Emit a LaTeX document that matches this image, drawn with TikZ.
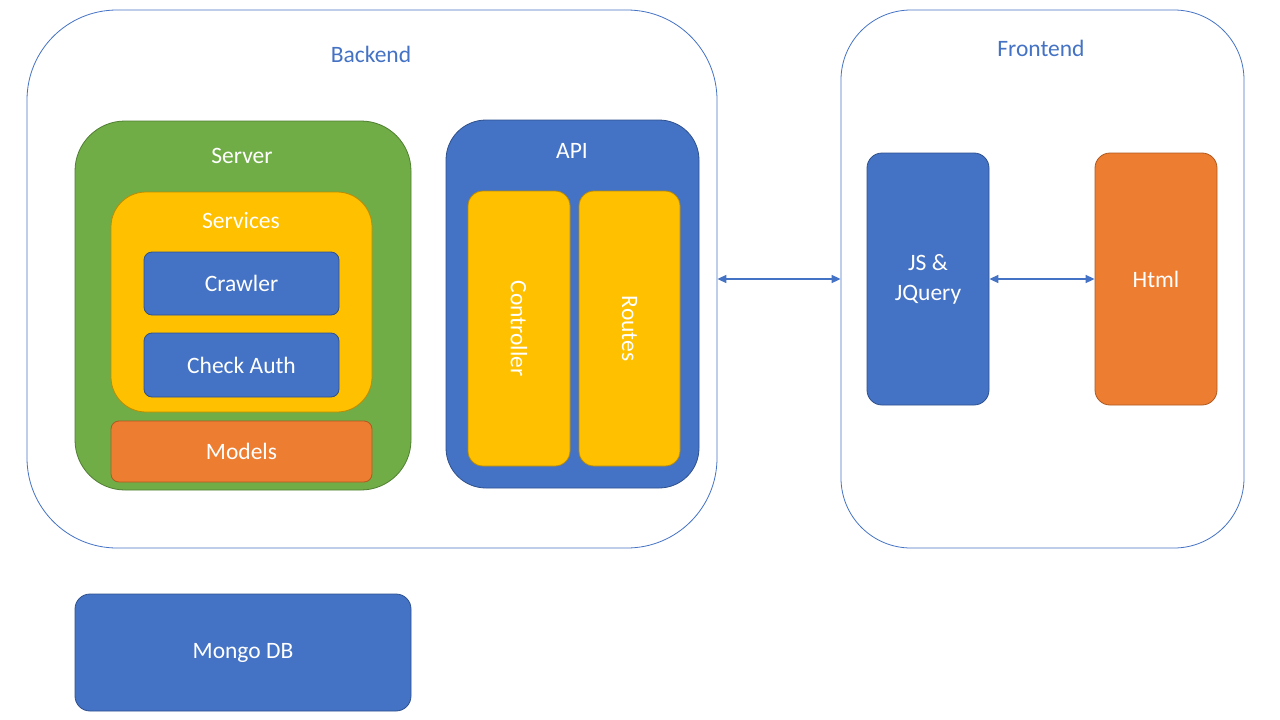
\documentclass[tikz,border=0pt]{standalone}
\usepackage{fontspec}
\setmainfont{Carlito}
\usetikzlibrary{arrows.meta}
\definecolor{blu}{HTML}{4472C4}
\definecolor{bluedge}{HTML}{2F528F}
\definecolor{grn}{HTML}{70AD47}
\definecolor{grnedge}{HTML}{507E32}
\definecolor{ylw}{HTML}{FFC000}
\definecolor{ylwedge}{HTML}{BC8C00}
\definecolor{org}{HTML}{ED7D31}
\definecolor{orgedge}{HTML}{AE5A21}
\tikzset{
  box/.style = {draw, line width = 0.8pt, minimum width = #1, inner sep = 0pt},
  outer/.style = {draw = blu, line width = 0.8pt, inner sep = 0pt},
  lbl/.style = {font = \fontsize{23.5}{30}\selectfont},
  link/.style = {blu, line width = 1.6pt, {Triangle[length = 9pt, width = 8pt]}-{Triangle[length = 9pt, width = 8pt]}}
}
\begin{document}
\begin{tikzpicture}[x = 1pt, y = -1pt]
  \useasboundingbox [fill = white] (0, 0) rectangle (1280, 720);
  \node (backend) [outer, rounded corners = 90pt, minimum width = 690pt, minimum height = 538pt] at (372, 279) {};
  \node (frontend) [outer, rounded corners = 70pt, minimum width = 403pt, minimum height = 538pt] at (1042.5, 279) {};
  \node [lbl, text = blu] at (371, 54) {Backend};
  \node [lbl, text = blu] at (1041, 48) {Frontend};
  \node (server) [box = 336pt, minimum height = 369pt, fill = grn, draw = grnedge, rounded corners = 50pt] at (243, 305.5) {};
  \node [lbl, text = white] at (242, 156) {Server};
  \node (services) [box = 261pt, minimum height = 220pt, fill = ylw, draw = ylwedge, rounded corners = 35pt] at (241.5, 302) {};
  \node [lbl, text = white] at (241, 220) {Services};
  \node (crawler) [box = 195pt, minimum height = 63pt, fill = blu, draw = bluedge, rounded corners = 8pt, lbl, text = white] at (241.5, 283.5) {Crawler};
  \node (auth) [box = 195pt, minimum height = 64pt, fill = blu, draw = bluedge, rounded corners = 8pt, lbl, text = white] at (241.5, 365) {Check Auth};
  \node (models) [box = 261pt, minimum height = 61pt, fill = org, draw = orgedge, rounded corners = 8pt, lbl, text = white] at (241.5, 451.5) {Models};
  \node (api) [box = 253pt, minimum height = 368pt, fill = blu, draw = bluedge, rounded corners = 40pt] at (572.5, 304) {};
  \node [lbl, text = white] at (572, 151) {API};
  \node (controller) [box = 102pt, minimum height = 275pt, fill = ylw, draw = ylwedge, rounded corners = 15pt] at (519, 328.5) {};
  \node [lbl, text = white, rotate = -90] at (controller) {Controller};
  \node (routes) [box = 101pt, minimum height = 275pt, fill = ylw, draw = ylwedge, rounded corners = 15pt] at (629.5, 328.5) {};
  \node [lbl, text = white, rotate = -90] at (routes) {Routes};
  \node (js) [box = 122pt, minimum height = 252pt, fill = blu, draw = bluedge, rounded corners = 15pt, lbl, text = white, align = center] at (928, 279) {JS \&\\JQuery};
  \node (html) [box = 122pt, minimum height = 252pt, fill = org, draw = orgedge, rounded corners = 15pt, lbl, text = white] at (1156, 279) {Html};
  \node (mongo) [box = 336pt, minimum height = 117pt, fill = blu, draw = bluedge, rounded corners = 15pt, lbl, text = white] at (243, 652.5) {Mongo DB};
  \draw [link] (backend.east) -- (frontend.west);
  \draw [link] (js.east) -- (html.west);
\end{tikzpicture}
\end{document}
